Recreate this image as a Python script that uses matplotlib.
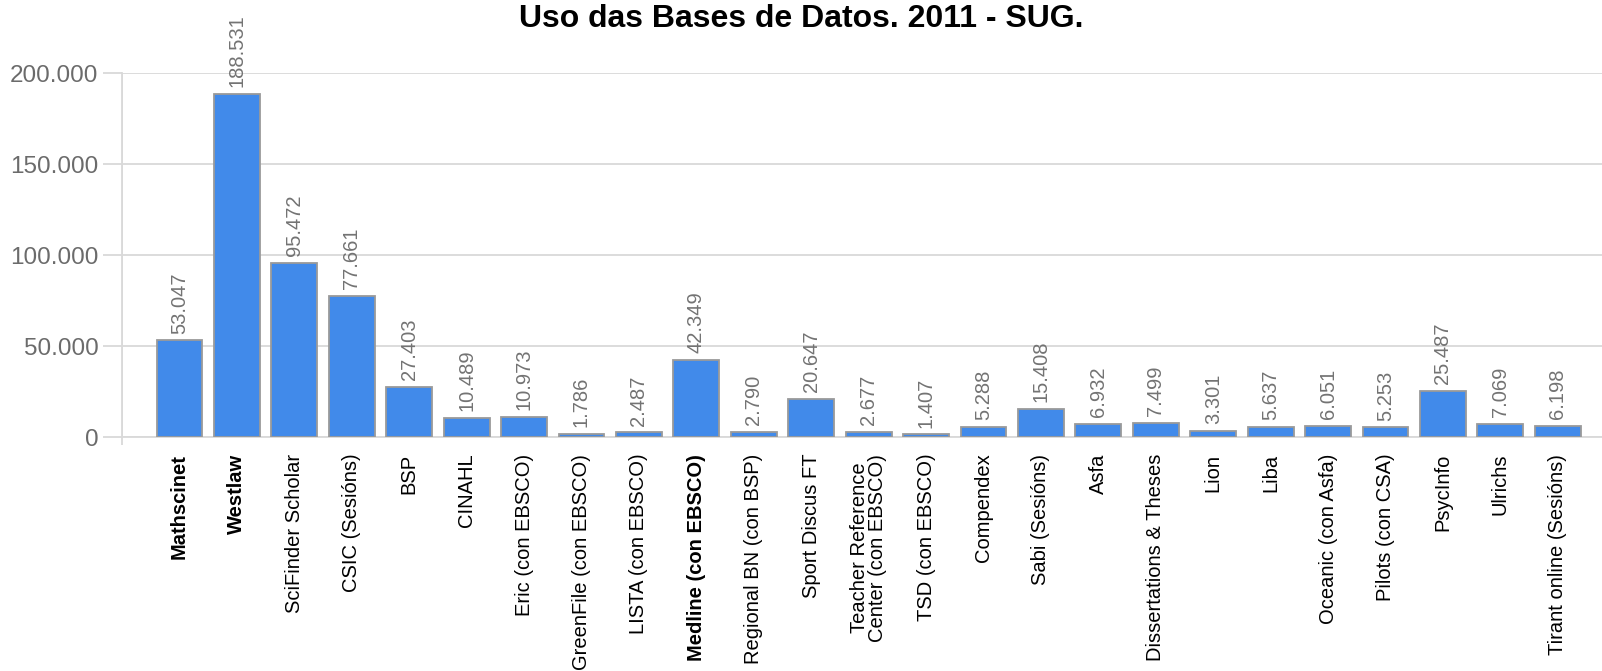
import matplotlib
matplotlib.use("Agg")
import matplotlib.pyplot as plt
from matplotlib.ticker import FuncFormatter, FixedLocator
import numpy as np

plt.rcParams['font.family'] = ['Liberation Sans', 'DejaVu Sans']

# Data
bases = ['Mathscinet', 'Westlaw', 'SciFinder Scholar', 'CSIC (Sesións)', 'BSP',
         'CINAHL', 'Eric (con EBSCO)', 'GreenFile (con EBSCO)', 'LISTA (con EBSCO)',
         'Medline (con EBSCO)', 'Regional BN (con BSP)', 'Sport Discus FT',
         'Teacher Reference\nCenter (con EBSCO)', 'TSD (con EBSCO)', 'Compendex',
         'Sabi (Sesións)', 'Asfa', 'Dissertations & Theses', 'Lion', 'Liba',
         'Oceanic (con Asfa)', 'Pilots (con CSA)', 'PsycInfo', 'Ulrichs',
         'Tirant online (Sesións)']
usos = [53047, 188531, 95472, 77661, 27403, 10489, 10973, 1786, 2487, 42349,
        2790, 20647, 2677, 1407, 5288, 15408, 6932, 7499, 3301, 5637, 6051,
        5253, 25487, 7069, 6198]
negrita = ['Mathscinet', 'Westlaw', 'Medline (con EBSCO)']

def miles(v, pos=None):
    return f"{int(v):,}".replace(",", ".")

fig = plt.figure(figsize=(16.02, 6.71), dpi=100)
ax = fig.add_axes([0.0762, 0.3487, 0.9238, 0.5425])

x = np.arange(len(bases))
bars = ax.bar(x, usos, width=0.8, color='#418AEA', edgecolor='#9a9a9a',
              linewidth=1.3, zorder=3)

for xi, v in zip(x, usos):
    ax.annotate(miles(v), (xi, v), xytext=(0, 5), textcoords='offset points',
                rotation=90, ha='center', va='bottom', fontsize=14.5,
                color='#737373')

ax.set_xlim(-1, 24.77)
ax.set_ylim(0, 200000)

# grid and ticks
ax.set_yticks([0, 50000, 100000, 150000, 200000])
ax.yaxis.set_major_formatter(FuncFormatter(miles))
ax.tick_params(axis='y', length=14, width=1.3, color='#d9d9d9', pad=3,
               labelsize=17.5, labelcolor='#6b6b6b')
ax.grid(axis='y', color='#d9d9d9', linewidth=1.3, zorder=0)

ax.set_xticks(x)
ax.set_xticklabels(bases, rotation=90, fontsize=14.5, color='black')
ax.xaxis.set_minor_locator(FixedLocator([-1, 4, 9, 14, 19, 24]))
ax.tick_params(axis='x', which='major', length=0, pad=12)
ax.tick_params(axis='x', which='minor', length=6, width=1.3, color='#d9d9d9')
ax.grid(axis='x', which='minor', color='#d9d9d9', linewidth=1.3, zorder=0)
for lbl in ax.get_xticklabels():
    if lbl.get_text() in negrita:
        lbl.set_fontweight('bold')
    if '\n' in lbl.get_text():
        lbl.set_linespacing(0.9)

for s in ['top', 'right']:
    ax.spines[s].set_visible(False)
for s in ['left', 'bottom']:
    ax.spines[s].set_color('#d9d9d9')
    ax.spines[s].set_linewidth(1.3)

fig.text(0.5, 0.972, 'Uso das Bases de Datos. 2011 - SUG.', ha='center',
         va='center', fontsize=23, fontweight='bold', color='black')

fig.savefig('out.png', dpi=100)
